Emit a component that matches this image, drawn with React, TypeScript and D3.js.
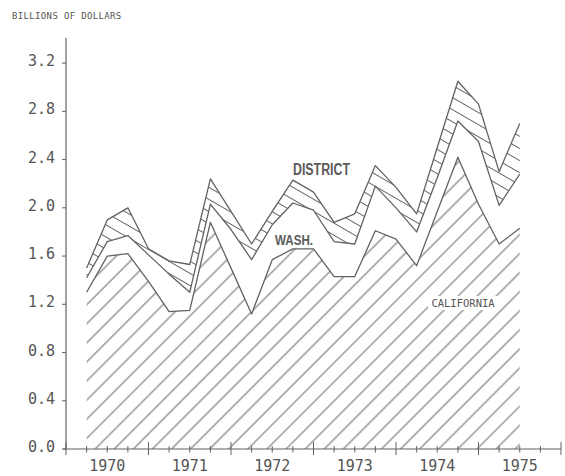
import React from "react";
import * as d3 from "d3";

// Quarterly observations, 1970 Q1 .. 1975 Q2 (billions of dollars)
const quarters: string[] = [
  "1970Q1","1970Q2","1970Q3","1970Q4",
  "1971Q1","1971Q2","1971Q3","1971Q4",
  "1972Q1","1972Q2","1972Q3","1972Q4",
  "1973Q1","1973Q2","1973Q3","1973Q4",
  "1974Q1","1974Q2","1974Q3","1974Q4",
  "1975Q1","1975Q2",
];
const california: number[] = [1.30, 1.60, 1.62, 1.39, 1.14, 1.15, 1.88, 1.50, 1.12, 1.57, 1.66, 1.66, 1.43, 1.43, 1.81, 1.74, 1.52, 1.97, 2.42, 2.03, 1.70, 1.83];
const washington: number[] = [0.12, 0.12, 0.15, 0.22, 0.31, 0.15, 0.15, 0.32, 0.45, 0.29, 0.38, 0.32, 0.29, 0.27, 0.37, 0.26, 0.28, 0.28, 0.30, 0.52, 0.32, 0.45];
const district: number[] = [0.08, 0.18, 0.23, 0.05, 0.11, 0.23, 0.21, 0.15, 0.13, 0.11, 0.19, 0.15, 0.16, 0.25, 0.17, 0.17, 0.15, 0.25, 0.33, 0.31, 0.28, 0.42];

const yTicks: number[] = [0, 0.4, 0.8, 1.2, 1.6, 2.0, 2.4, 2.8, 3.2];
const yearLabels: number[] = [1970, 1971, 1972, 1973, 1974, 1975];

const W = 565;
const H = 476;
const INK = "#626262";
const TXT = "#555";
const MONO = "'DejaVu Sans Mono', monospace";

function qToYear(q: string): number {
  const yr = +q.slice(0, 4);
  const n = +q.slice(5);
  return yr + n / 4; // end of quarter
}

export default function App() {
  const x = d3.scaleLinear().domain([1970, 1976]).range([66, 561]);
  const y = d3.scaleLinear().domain([0, 3.4]).range([449, 39]);

  const rows = quarters.map((q, i) => ({
    t: qToYear(q),
    california: california[i],
    washington: washington[i],
    district: district[i],
  }));
  const stack = d3.stack<any>().keys(["california", "washington", "district"]);
  const series = stack(rows);
  const [sCA, sWA, sDI] = series;

  const area = d3
    .area<any>()
    .x((d) => x(d.data.t))
    .y0((d) => y(d[0]))
    .y1((d) => y(d[1]));
  const line = d3
    .line<any>()
    .x((d) => x(d.data.t))
    .y((d) => y(d[1]));

  const qTicks = d3.range(0, 25).map((i) => ({ v: 1970 + i / 4, major: i % 4 === 0 }));

  return (
    <svg
      width={W}
      height={H}
      viewBox={`0 0 ${W} ${H}`}
      style={{ position: "absolute", left: 0, top: 0, background: "#fff" }}
    >
      <defs>
        <pattern id="caHatch" patternUnits="userSpaceOnUse" width={13.5} height={13.5} patternTransform="rotate(45)">
          <line x1={6.75} y1={0} x2={6.75} y2={13.5} stroke={INK} strokeWidth={1} />
        </pattern>
        <pattern id="diHatch" patternUnits="userSpaceOnUse" width={10.5} height={10.5} patternTransform="rotate(30)">
          <line x1={0} y1={5.25} x2={10.5} y2={5.25} stroke={INK} strokeWidth={1} />
        </pattern>
      </defs>
      <rect x={0} y={0} width={W} height={H} fill="#fff" />

      {/* areas */}
      <path d={area(sCA as any) || ""} fill="url(#caHatch)" />
      <path d={area(sWA as any) || ""} fill="#fff" />
      <path d={area(sDI as any) || ""} fill="url(#diHatch)" />

      {/* boundary lines */}
      {[sCA, sWA, sDI].map((s, i) => (
        <path key={i} d={line(s as any) || ""} fill="none" stroke={INK} strokeWidth={1.3} strokeLinejoin="round" />
      ))}

      {/* axes */}
      <line x1={x(1970)} y1={y(0)} x2={x(1970)} y2={38} stroke={INK} strokeWidth={1.2} />
      <line x1={x(1970) - 3} y1={y(0)} x2={x(1976)} y2={y(0)} stroke={INK} strokeWidth={1.2} />
      {yTicks.map((v) => (
        <g key={v}>
          <line x1={x(1970) - 4} x2={x(1970)} y1={y(v)} y2={y(v)} stroke={INK} strokeWidth={1} />
          <text x={55} y={y(v) + 3} textAnchor="end" fontFamily={MONO} fontSize={15} fill={TXT}>
            {d3.format(".1f")(v)}
          </text>
        </g>
      ))}
      {qTicks.map((t, i) => (
        <line
          key={i}
          x1={x(t.v)}
          x2={x(t.v)}
          y1={y(0) - (t.major ? 7 : 3)}
          y2={y(0) + (t.major ? 6 : 3.5)}
          stroke={INK}
          strokeWidth={1}
        />
      ))}
      {yearLabels.map((yr) => (
        <text key={yr} x={x(yr + 0.5)} y={471} textAnchor="middle" fontFamily={MONO} fontSize={15} fill={TXT}>
          {yr}
        </text>
      ))}

      {/* titles and labels */}
      <text x={12} y={18.5} fontFamily={MONO} fontSize={9} letterSpacing={0.35} fill={TXT}>
        BILLIONS OF DOLLARS
      </text>
      <text x={293} y={175} fontFamily="'Liberation Sans', Arial, sans-serif" fontWeight="bold" fontSize={16} textLength={57} lengthAdjust="spacingAndGlyphs" fill="#5a5a5a">
        DISTRICT
      </text>
      <text x={275} y={245} fontFamily="'Liberation Sans', Arial, sans-serif" fontWeight="bold" fontSize={15.5} textLength={38} lengthAdjust="spacingAndGlyphs" fill="#5a5a5a">
        WASH.
      </text>
      <rect x={428} y={296} width={70} height={14} fill="#fff" />
      <text x={463} y={307} textAnchor="middle" fontFamily={MONO} fontSize={10.5} fill={TXT}>
        CALIFORNIA
      </text>
    </svg>
  );
}
